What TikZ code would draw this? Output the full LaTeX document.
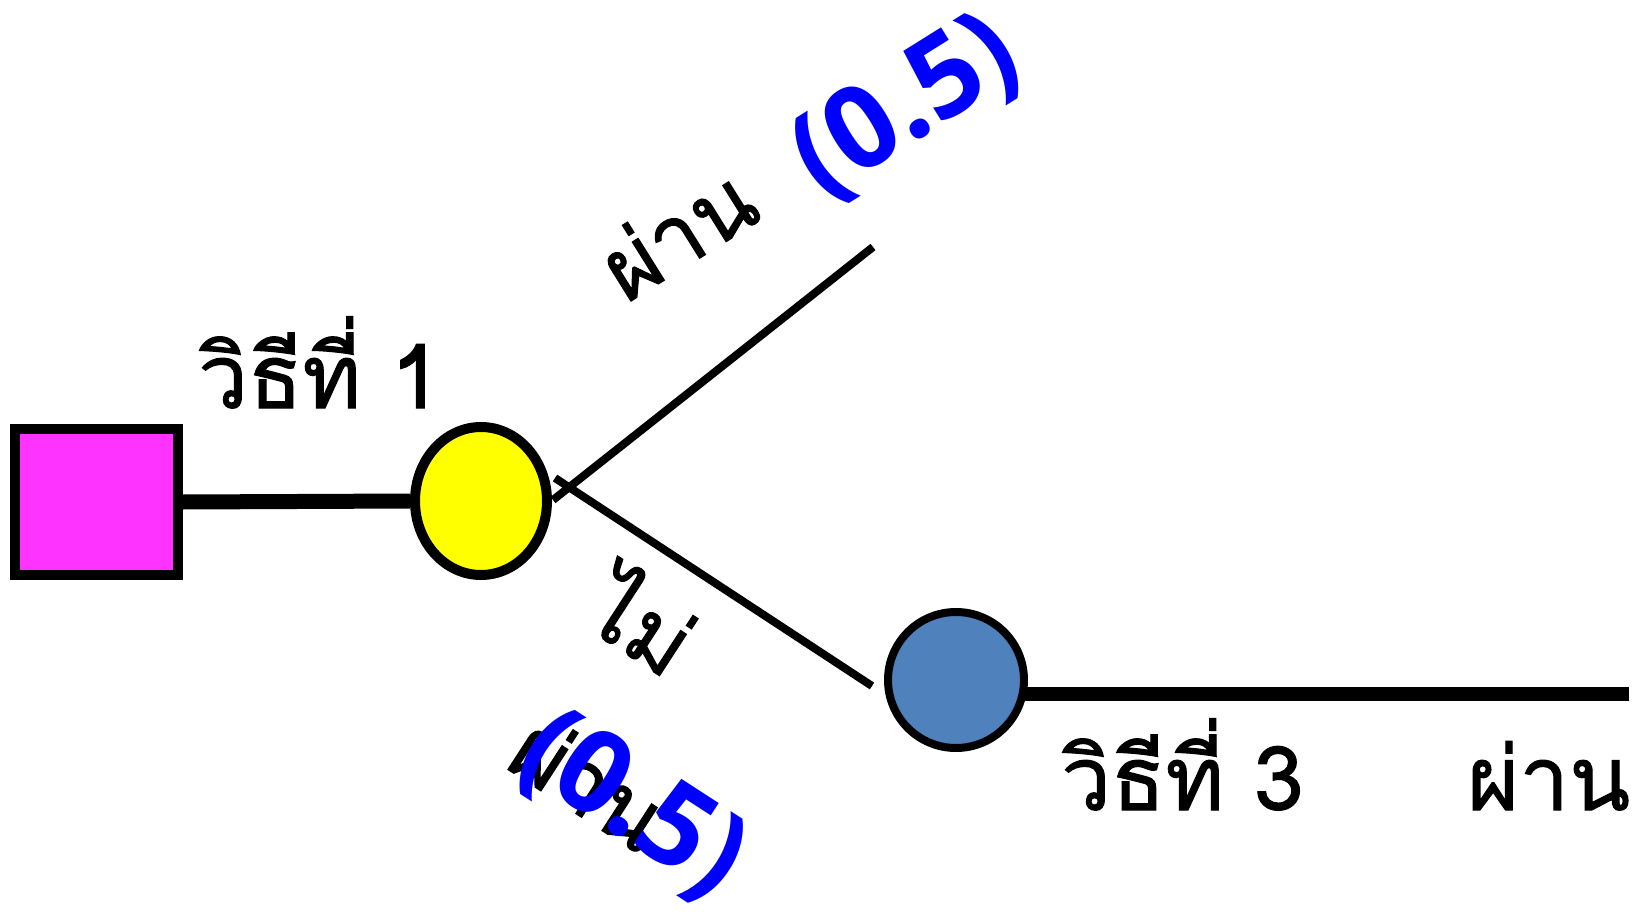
\documentclass[tikz,border=0pt]{standalone}
\usepackage{fontspec}
\usetikzlibrary{shapes.geometric}
\newfontfamily\thai[Script=Thai,FakeBold=1.2]{Loma}
\newfontfamily\numf{Open Sans}
\definecolor{magentabox}{HTML}{FF33FF}
\definecolor{yellownode}{HTML}{FFFF00}
\definecolor{bluenode}{HTML}{4F81BD}
\definecolor{bluetext}{HTML}{0000FF}
\begin{document}
\begin{tikzpicture}[x=1pt,y=-1pt,
  lbl/.style={font=\thai\fontsize{89}{92}\selectfont, inner sep=0pt, text=black},
  prob/.style={font=\numf\bfseries\fontsize{115}{118}\selectfont, inner sep=0pt, text=bluetext},
  branch/.style={line width=8pt, draw=black},
  thick conn/.style={line width=15pt, draw=black}]
\useasboundingbox (0,0) rectangle (1634,912);
\fill[white] (0,0) rectangle (1634,912);
% free ends of connectors
\coordinate (u0) at (553,500);
\coordinate (u1) at (873,247);
\coordinate (l0) at (555,478);
\coordinate (l1) at (872,686);
\coordinate (r0) at (1022,694);
\coordinate (r1) at (1629,694);
\draw[line width=14pt] (r0) -- (r1);
% nodes
\node[draw=black, line width=10pt, fill=magentabox, minimum width=163pt, minimum height=146pt, inner sep=0pt] (sq) at (96.5,502) {};
\node[ellipse, draw=black, line width=10pt, fill=yellownode, minimum width=132pt, minimum height=148pt, inner sep=0pt] (ye) at (481,501) {};
\node[circle, draw=black, line width=8pt, fill=bluenode, minimum size=136pt, inner sep=0pt] (bc) at (956,680) {};
% connectors
\draw[thick conn] (sq.east) -- (ye.west);
\draw[branch] (u0) -- (u1);
\draw[branch] (l0) -- (l1);
% labels
\node[lbl, anchor=base west] (t1) at (198,408) {วิธีที่ 1};
\node[lbl, anchor=base west] (t3) at (1061,810) {วิธีที่ 3};
\node[lbl, anchor=base west] (p3) at (1467,810) {ผ่าน};
\node[lbl, rotate=32] (pu) at (677,232) {ผ่าน};
\node[prob, rotate=32] (qu) at (907,108) {(0.5)};
\node[lbl, rotate=-33] (nl) at (645,619) {ไม่};
\node[lbl, rotate=-33] (pl) at (590,782) {ผ่าน};
\node[prob, rotate=-33] (ql) at (632,806) {(0.5)};
\end{tikzpicture}
\end{document}
